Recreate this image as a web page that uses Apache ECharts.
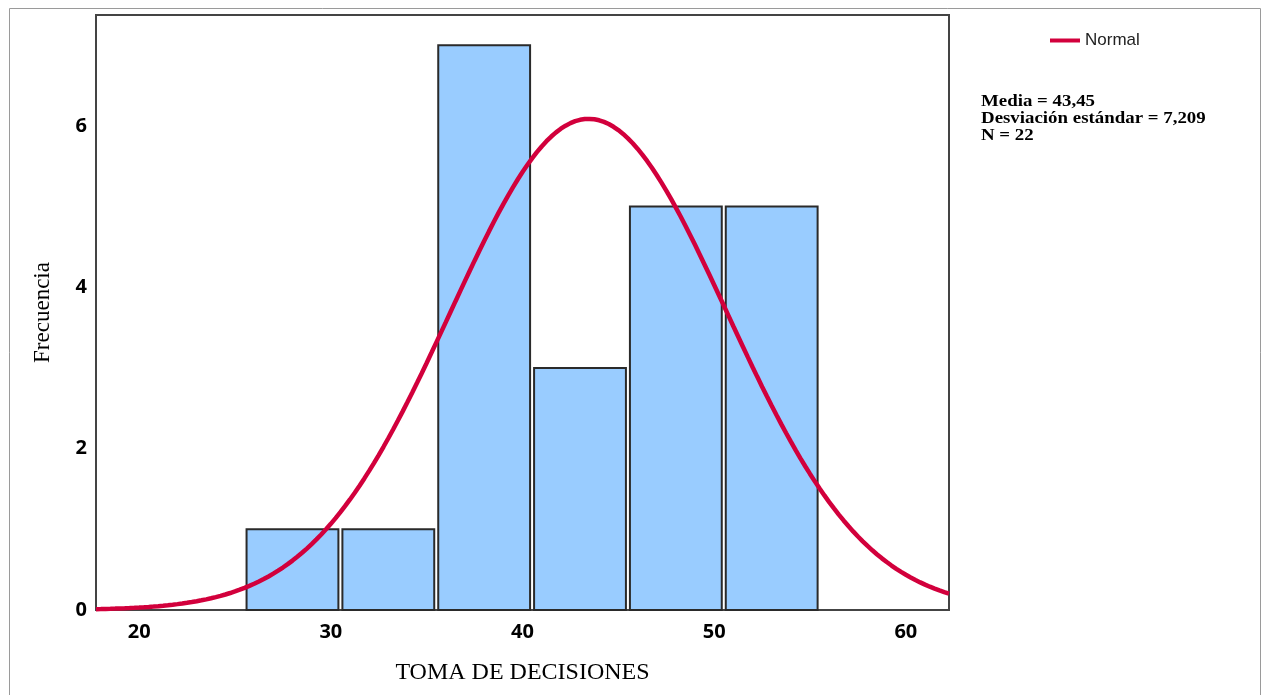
<!DOCTYPE html>
<html>
<head>
<meta charset="utf-8">
<script src="https://cdn.jsdelivr.net/npm/echarts@6/dist/echarts.min.js"></script>
<style>
  html, body { margin: 0; padding: 0; background: #ffffff; }
  #chart { width: 1262px; height: 695px; }
</style>
</head>
<body>
<div id="chart"></div>
<script>
// Histogram bins: lower edge, upper edge, frequency
const binStart = [25.5, 30.5, 35.5, 40.5, 45.5, 50.5];
const binEnd   = [30.5, 35.5, 40.5, 45.5, 50.5, 55.5];
const frecuencia = [1, 1, 7, 3, 5, 5];

// Summary statistics of the sample (also drive the fitted normal curve)
const media = 43.45;
const desviacion = 7.209;
const n = 22;
const anchoBin = 5;

// Tick labels
const xTicks = [20, 30, 40, 50, 60];
const yTicks = [0, 2, 4, 6];

// Axis extent
const xMin = 17.75, xMax = 62.25;
const yMin = 0, yMax = 7.375;

// Normal curve scaled to the histogram (count per bin width)
const curveX = [];
for (let x = xMin; x <= xMax + 1e-9; x += 0.25) curveX.push(+x.toFixed(2));
const curve = curveX.map(x => {
  const z = (x - media) / desviacion;
  return [x, n * anchoBin * Math.exp(-0.5 * z * z) / (desviacion * Math.sqrt(2 * Math.PI))];
});

const bars = binStart.map((s, i) => [s, binEnd[i], frecuencia[i]]);

const chart = echarts.init(document.getElementById('chart'), null, { renderer: 'canvas' });

const option = {
  backgroundColor: '#ffffff',
  animation: false,
  grid: {
    left: 96, right: 313, top: 15, bottom: 85,
    show: true, borderColor: '#444444', borderWidth: 2, backgroundColor: 'transparent'
  },
  legend: {
    show: true,
    left: 1045, top: 27,
    itemWidth: 30, itemHeight: 4,
    data: [{ name: 'Normal', icon: 'rect' }],
    textStyle: { fontFamily: 'Liberation Sans', fontSize: 17, color: '#222' }
  },
  xAxis: {
    type: 'value',
    min: xMin, max: xMax,
    name: 'TOMA DE DECISIONES',
    nameLocation: 'middle',
    nameGap: 51,
    nameTextStyle: { fontFamily: 'Liberation Serif', fontSize: 24, color: '#000' },
    axisLine: { show: false },
    axisTick: { show: false },
    splitLine: { show: false },
    axisLabel: {
      customValues: xTicks,
      margin: 12,
      fontFamily: 'Open Sans', fontWeight: 700, fontSize: 20, color: '#000'
    }
  },
  yAxis: {
    type: 'value',
    min: yMin, max: yMax,
    name: 'Frecuencia',
    nameLocation: 'middle',
    nameGap: 42,
    nameRotate: 90,
    nameTextStyle: { fontFamily: 'Liberation Serif', fontSize: 23, color: '#000' },
    axisLine: { show: false },
    axisTick: { show: false },
    splitLine: { show: false },
    axisLabel: {
      customValues: yTicks,
      margin: 9,
      fontFamily: 'Open Sans', fontWeight: 700, fontSize: 20, color: '#000'
    }
  },
  series: [
    {
      type: 'custom',
      name: 'Frecuencia',
      data: bars,
      encode: { x: [0, 1], y: 2 },
      z: 2,
      renderItem: function (params, api) {
        const p0 = api.coord([api.value(0), api.value(2)]);
        const p1 = api.coord([api.value(1), 0]);
        const inset = 2;
        return {
          type: 'rect',
          shape: {
            x: p0[0] + inset,
            y: p0[1],
            width: p1[0] - p0[0] - inset * 2,
            height: p1[1] - p0[1]
          },
          style: { fill: '#99CCFF', stroke: '#2a2a2a', lineWidth: 2 }
        };
      }
    },
    {
      type: 'line',
      name: 'Normal',
      data: curve,
      showSymbol: false,
      smooth: false,
      z: 3,
      lineStyle: { color: '#D2003C', width: 4.5 },
      itemStyle: { color: '#D2003C' }
    }
  ],
  graphic: [
    {
      type: 'rect',
      silent: true,
      shape: { x: 9.5, y: 8.5, width: 1251, height: 700 },
      style: { fill: 'none', stroke: '#9a9a9a', lineWidth: 1 }
    },
    {
      type: 'text',
      x: 981, y: 93,
      scaleX: 1.18,
      style: {
        text: 'Media = ' + media.toFixed(2).replace('.', ',') +
              '\nDesviación estándar = ' + desviacion.toFixed(3).replace('.', ',') +
              '\nN = ' + n,
        font: 'bold 16px "Liberation Serif"',
        lineHeight: 17,
        fill: '#000',
        textAlign: 'left',
        textVerticalAlign: 'top'
      }
    }
  ]
};

chart.setOption(option);
</script>
</body>
</html>
